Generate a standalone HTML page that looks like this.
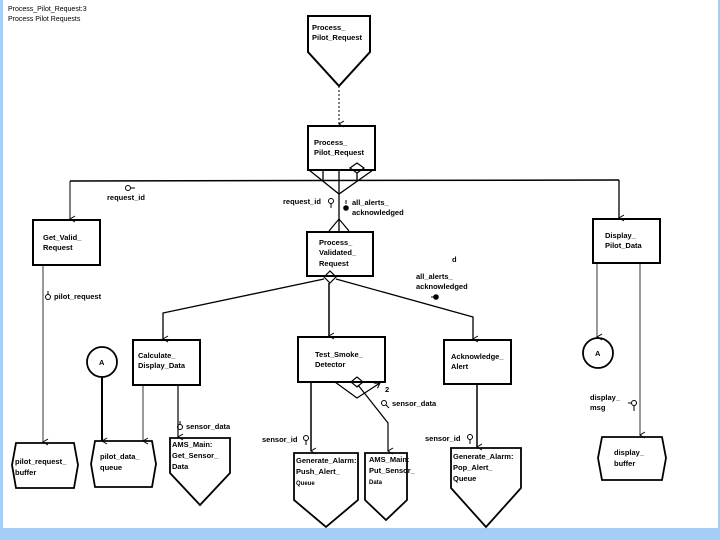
<!DOCTYPE html>
<html><head><meta charset="utf-8"><style>
html,body{margin:0;padding:0;background:#a6cdf5;}
svg{display:block;}
text{font-family:"Liberation Sans",sans-serif;font-size:7.5px;fill:#000;}
.b{font-weight:bold;}
</style></head><body>
<svg width="720" height="540" viewBox="0 0 720 540" xmlns="http://www.w3.org/2000/svg">
<rect x="0" y="0" width="720" height="540" fill="#a6cdf5"/>
<rect x="3" y="0" width="715" height="528" fill="#fff"/>
<defs><marker id="ar" markerWidth="8" markerHeight="8" refX="4" refY="7" orient="auto" markerUnits="userSpaceOnUse"><path d="M1,2 L4,7 L7,2" fill="none" stroke="#000" stroke-width="1"/></marker>
<marker id="ar2" markerWidth="8" markerHeight="8" refX="7" refY="4" orient="auto" markerUnits="userSpaceOnUse"><path d="M2,1 L7,4 L2,7" fill="none" stroke="#000" stroke-width="1"/></marker></defs>
<text x="8" y="11" style="font-size:7px">Process_Pilot_Request:3</text>
<text x="8" y="21" style="font-size:7px">Process Pilot Requests</text>
<g fill="none" stroke="#000">
<path d="M308,16 L370,16 L370,52 L339,86 L308,52 Z" stroke-width="2"/>
<line x1="339" y1="86" x2="339" y2="124" stroke-dasharray="2,2" marker-end="url(#ar)"/>
<rect x="308" y="126" width="67" height="44" stroke-width="2"/>
<path d="M309,170 L339,194 L373,170" stroke-width="1.3"/>
<line x1="323" y1="170" x2="323" y2="181" stroke-width="1.3"/>
<line x1="357" y1="173" x2="357" y2="181" stroke-width="1.3"/>
<path d="M350,168 L357,163 L364,168 L357,173 Z" stroke-width="1.2"/>
<line x1="70" y1="181" x2="619" y2="180" stroke-width="1.5"/>
<line x1="70" y1="181" x2="70" y2="219" marker-end="url(#ar)"/>
<line x1="619" y1="180" x2="619" y2="218" stroke-width="1.3" marker-end="url(#ar)"/>
<line x1="339" y1="170" x2="339" y2="232" stroke-width="1.3"/>
<path d="M329,231 L339,219 L349,231" stroke-width="1.2"/>
<rect x="33" y="220" width="67" height="45" stroke-width="2"/>
<rect x="593" y="219" width="67" height="44" stroke-width="2"/>
<rect x="307" y="232" width="66" height="44" stroke-width="2"/>
<path d="M324,277 L330,271 L336,277 L330,283 Z" stroke-width="1.2"/>
<path d="M324,279 L163,313 L163,339" stroke-width="1.3" marker-end="url(#ar)"/>
<line x1="329" y1="283" x2="329" y2="336" stroke-width="1.5" marker-end="url(#ar)"/>
<path d="M336,279 L473,317 L473,339" stroke-width="1.3" marker-end="url(#ar)"/>
<line x1="43" y1="265" x2="43" y2="442" stroke-width="0.8" marker-end="url(#ar)"/>
<rect x="133" y="340" width="67" height="45" stroke-width="2"/>
<circle cx="102" cy="362" r="15" stroke-width="1.8"/>
<line x1="102" y1="377" x2="102" y2="441" stroke-width="2" marker-end="url(#ar)"/>
<line x1="143" y1="385" x2="143" y2="441" stroke-width="0.8" marker-end="url(#ar)"/>
<line x1="178" y1="385" x2="178" y2="437" stroke-width="1.2" marker-end="url(#ar)"/>
<path d="M16,443 L74,443 L78,465 L74,488 L16,488 L12,465 Z" stroke-width="1.8"/>
<path d="M95,441 L152,441 L156,464 L152,487 L95,487 L91,464 Z" stroke-width="1.8"/>
<path d="M170,438 L230,438 L230,473 L200,505 L170,473 Z" stroke-width="1.8"/>
<rect x="298" y="337" width="87" height="45" stroke-width="2"/>
<line x1="311" y1="382" x2="311" y2="451" stroke-width="1.5" marker-end="url(#ar)"/>
<path d="M335,382 L357,398 L380,383" stroke-width="1.2" marker-end="url(#ar2)"/>
<path d="M351,382 L357,377 L363,382 L357,387 Z" stroke-width="1.2"/>
<path d="M358,385 L388,423 L388,451" stroke-width="1.2" marker-end="url(#ar)"/>
<path d="M294,453 L358,453 L358,500 L326,527 L294,500 Z" stroke-width="1.8"/>
<path d="M365,453 L407,453 L407,500 L386,520 L365,500 Z" stroke-width="1.8"/>
<rect x="444" y="340" width="67" height="44" stroke-width="2"/>
<line x1="477" y1="384" x2="477" y2="447" stroke-width="1.5" marker-end="url(#ar)"/>
<path d="M451,448 L521,448 L521,488 L486,527 L451,488 Z" stroke-width="1.8"/>
<line x1="597" y1="263" x2="597" y2="337" stroke-width="0.8" marker-end="url(#ar)"/>
<circle cx="598" cy="353" r="15" stroke-width="1.8"/>
<line x1="640" y1="263" x2="640" y2="435" stroke-width="0.8" marker-end="url(#ar)"/>
<path d="M602,437 L662,437 L666,458 L662,480 L602,480 L598,458 Z" stroke-width="1.8"/>
<circle cx="128" cy="188" r="2.5"/><line x1="131" y1="188" x2="135" y2="188"/>
<circle cx="331" cy="201" r="2.5"/><line x1="331" y1="204" x2="331" y2="208"/>
<circle cx="48" cy="297" r="2.5"/><line x1="48" y1="291" x2="48" y2="294"/>
<circle cx="180" cy="427" r="2.5"/><line x1="180" y1="421" x2="180" y2="424"/>
<circle cx="384" cy="403" r="2.5"/><line x1="386" y1="405" x2="389" y2="408"/>
<circle cx="306" cy="438" r="2.5"/><line x1="306" y1="441" x2="306" y2="445"/>
<circle cx="470" cy="437" r="2.5"/><line x1="470" y1="440" x2="470" y2="444"/>
<circle cx="634" cy="403" r="2.5"/><line x1="634" y1="406" x2="634" y2="411"/><line x1="628" y1="403" x2="631" y2="403"/>
<line x1="346" y1="200" x2="346" y2="204"/>
<line x1="431" y1="297" x2="434" y2="297"/>
</g>
<circle cx="346" cy="208" r="2.8" fill="#000"/>
<circle cx="436" cy="297" r="2.8" fill="#000"/>
<g class="b">
<text x="312" y="30">Process_</text><text x="312" y="40">Pilot_Request</text>
<text x="314" y="145">Process_</text><text x="314" y="155">Pilot_Request</text>
<text x="107" y="200">request_id</text>
<text x="283" y="204">request_id</text>
<text x="352" y="205">all_alerts_</text><text x="352" y="215">acknowledged</text>
<text x="43" y="240">Get_Valid_</text><text x="43" y="250">Request</text>
<text x="319" y="245">Process_</text><text x="319" y="255">Validated_</text><text x="319" y="266">Request</text>
<text x="605" y="238">Display_</text><text x="605" y="248">Pilot_Data</text>
<text x="452" y="262">d</text>
<text x="416" y="279">all_alerts_</text><text x="416" y="289">acknowledged</text>
<text x="54" y="299">pilot_request</text>
<text x="99" y="365">A</text>
<text x="595" y="356">A</text>
<text x="138" y="358">Calculate_</text><text x="138" y="368">Display_Data</text>
<text x="315" y="357">Test_Smoke_</text><text x="315" y="367">Detector</text>
<text x="451" y="359">Acknowledge_</text><text x="451" y="369">Alert</text>
<text x="385" y="392">2</text>
<text x="392" y="406">sensor_data</text>
<text x="186" y="429">sensor_data</text>
<text x="590" y="400">display_</text><text x="590" y="410">msg</text>
<text x="262" y="442">sensor_id</text>
<text x="425" y="441">sensor_id</text>
<text x="15" y="464">pilot_request_</text><text x="15" y="475">buffer</text>
<text x="100" y="459">pilot_data_</text><text x="100" y="470">queue</text>
<text x="172" y="447">AMS_Main:</text><text x="172" y="458">Get_Sensor_</text><text x="172" y="469">Data</text>
<text x="296" y="463">Generate_Alarm:</text><text x="296" y="474">Push_Alert_</text><text x="296" y="485" style="font-size:6px">Queue</text>
<text x="369" y="462">AMS_Main:</text><text x="369" y="473">Put_Sensor_</text><text x="369" y="484" style="font-size:6px">Data</text>
<text x="453" y="459">Generate_Alarm:</text><text x="453" y="470">Pop_Alert_</text><text x="453" y="481">Queue</text>
<text x="614" y="455">display_</text><text x="614" y="466">buffer</text>
</g>
</svg>
</body></html>
